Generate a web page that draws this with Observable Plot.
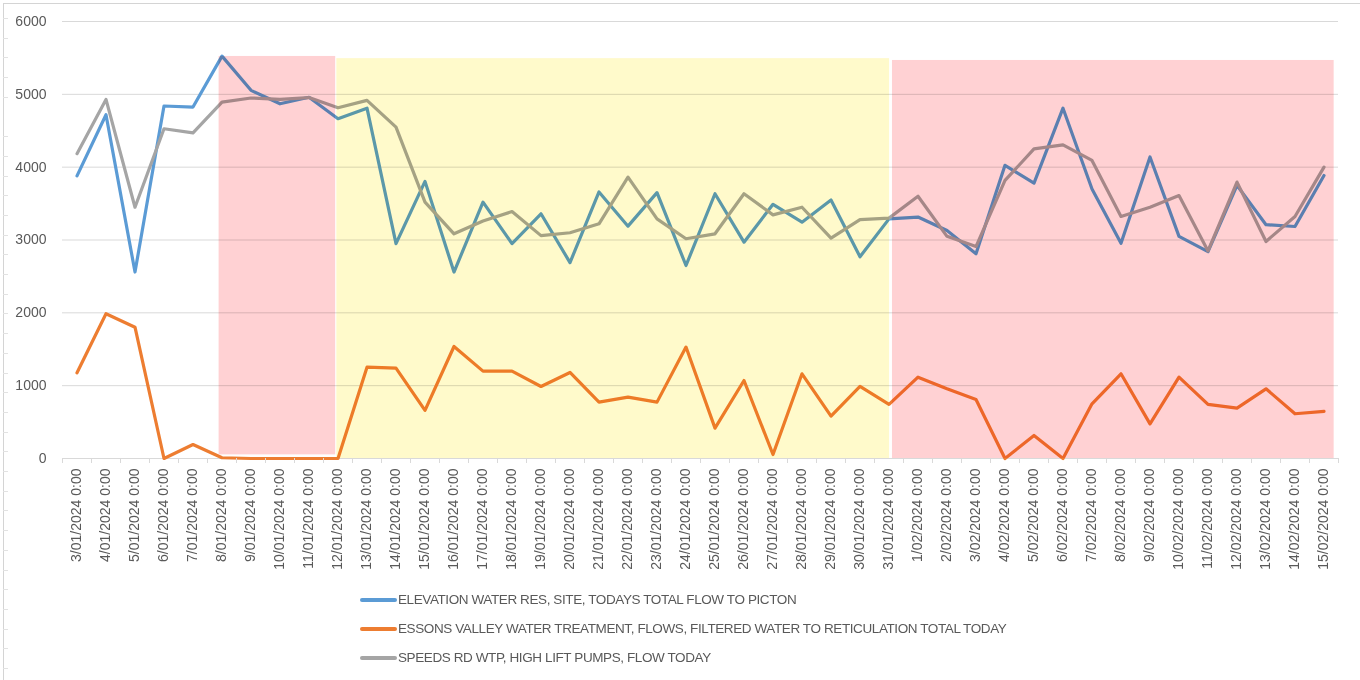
<!DOCTYPE html>
<html>
<head>
<meta charset="utf-8">
<script src="https://cdn.jsdelivr.net/npm/d3@7"></script>
<script src="https://cdn.jsdelivr.net/npm/@observablehq/plot@0.6"></script>
<style>
  html, body { margin: 0; padding: 0; background: #fff; }
  #wrap { position: relative; width: 1360px; height: 680px; overflow: hidden; font-family: "Liberation Sans", Arial, sans-serif; }
  #frameTop { position: absolute; left: 3px; top: 3px; width: 1357px; height: 1px; background: #d4d4d4; }
  #frameLeft { position: absolute; left: 3px; top: 3px; width: 1px; height: 677px; background: #d4d4d4; }
  #rowMarks { position: absolute; left: 3px; top: 0; width: 5px; height: 680px;
    background: repeating-linear-gradient(to bottom, transparent 0px, transparent 18px, #e2e2e2 18px, #e2e2e2 19px, transparent 19px, transparent 19.7px); }
  #chart { position: absolute; left: 0; top: 0; }
  #legend { position: absolute; left: 360px; top: 585px; }
  .row { height: 29px; display: flex; align-items: center; }
  .sw { width: 37px; height: 4px; border-radius: 2px; margin-right: 1px; }
  .lab { font-family: "Liberation Sans", Arial, sans-serif; font-size: 13.5px; letter-spacing: -0.4px; color: #595959; white-space: nowrap; }
</style>
</head>
<body>
<div id="wrap">
  <div id="frameTop"></div>
  <div id="frameLeft"></div>
  <div id="rowMarks"></div>
  <div id="chart"></div>
  <div id="legend"></div>
</div>
<script>
// Category labels (x axis)
const dates = [
  "3/01/2024 0:00","4/01/2024 0:00","5/01/2024 0:00","6/01/2024 0:00","7/01/2024 0:00",
  "8/01/2024 0:00","9/01/2024 0:00","10/01/2024 0:00","11/01/2024 0:00","12/01/2024 0:00",
  "13/01/2024 0:00","14/01/2024 0:00","15/01/2024 0:00","16/01/2024 0:00","17/01/2024 0:00",
  "18/01/2024 0:00","19/01/2024 0:00","20/01/2024 0:00","21/01/2024 0:00","22/01/2024 0:00",
  "23/01/2024 0:00","24/01/2024 0:00","25/01/2024 0:00","26/01/2024 0:00","27/01/2024 0:00",
  "28/01/2024 0:00","29/01/2024 0:00","30/01/2024 0:00","31/01/2024 0:00","1/02/2024 0:00",
  "2/02/2024 0:00","3/02/2024 0:00","4/02/2024 0:00","5/02/2024 0:00","6/02/2024 0:00",
  "7/02/2024 0:00","8/02/2024 0:00","9/02/2024 0:00","10/02/2024 0:00","11/02/2024 0:00",
  "12/02/2024 0:00","13/02/2024 0:00","14/02/2024 0:00","15/02/2024 0:00"
];

// Series values
const elevation = [
  3880, 4720, 2560, 4840, 4825, 5525, 5055, 4870, 4960, 4665,
  4810, 2950, 3805, 2560, 3520, 2950, 3360, 2690, 3660, 3190,
  3650, 2650, 3635, 2970, 3490, 3245, 3550, 2770, 3290, 3315,
  3130, 2810, 4025, 3780, 4810, 3700, 2955, 4140, 3050, 2840,
  3750, 3210, 3185, 3885
];
const essons = [
  1177, 1987, 1803, 0, 192, 10, 0, 0, 0, 0,
  1254, 1240, 660, 1538, 1200, 1200, 989, 1181, 774, 842,
  774, 1530, 417, 1071, 55, 1163, 582, 989, 742, 1117,
  957, 810, 0, 316, 0, 751, 1163, 476, 1117, 742,
  691, 957, 614, 646
];
const speeds = [
  4185, 4930, 3450, 4527, 4470, 4893, 4950, 4930, 4955, 4815,
  4917, 4550, 3520, 3085, 3260, 3390, 3060, 3100, 3222, 3863,
  3290, 3017, 3085, 3635, 3345, 3450, 3025, 3280, 3300, 3600,
  3050, 2910, 3818, 4250, 4307, 4093, 3323, 3450, 3610, 2850,
  3795, 2980, 3323, 4000
];

const seriesNames = [
  "ELEVATION WATER RES, SITE, TODAYS TOTAL FLOW TO PICTON",
  "ESSONS VALLEY WATER TREATMENT, FLOWS, FILTERED WATER TO RETICULATION TOTAL TODAY",
  "SPEEDS RD WTP, HIGH LIFT PUMPS, FLOW TODAY"
];
const seriesColors = ["#5B9BD5", "#ED7D31", "#A5A5A5"];

// Highlight bands (in category-index units, value units)
const bandFrom   = [4.9, 8.96, 28.12];
const bandTo     = [8.92, 28.02, 43.35];
const bandTop    = [5520, 5490, 5465];
const bandBottom = [50, 0, 0];
const bandFill   = ["#FFD1D3", "#FFFACB", "#FFD1D3"];

const yTicks = [0, 1000, 2000, 3000, 4000, 5000, 6000];

const seriesValues = [elevation, essons, speeds];
const rows = seriesValues.flatMap((vals, s) =>
  vals.map((v, i) => ({ i, value: v, series: seriesNames[s] })));
const bands = bandFrom.map((f, k) => ({ x1: f, x2: bandTo[k], y1: bandBottom[k], y2: bandTop[k], fill: bandFill[k] }));

const n = dates.length;
const chart = Plot.plot({
  width: 1360,
  height: 585,
  marginLeft: 62,
  marginRight: 22,
  marginTop: 21,
  marginBottom: 127,
  style: { fontFamily: "'Liberation Sans', Arial, sans-serif", fontSize: "14px", color: "#595959", background: "transparent" },
  x: { type: "linear", domain: [-0.5, n - 0.5] },
  y: { domain: [0, 6000] },
  color: { domain: seriesNames, range: seriesColors },
  marks: [
    Plot.ruleY(yTicks, { stroke: "#D9D9D9", strokeWidth: 1 }),
    Plot.line(rows, { x: "i", y: "value", z: "series", stroke: "series", strokeWidth: 3.2, strokeLinejoin: "round", strokeLinecap: "round" }),
    Plot.rect(bands, { x1: "x1", x2: "x2", y1: "y1", y2: "y2", fill: "fill", mixBlendMode: "multiply" }),
    Plot.axisX({ ticks: d3.range(n + 1).map(k => k - 0.5), tickSize: 5, tickFormat: () => "", stroke: "#D9D9D9" }),
    Plot.axisX({ ticks: d3.range(n), tickSize: 0, tickPadding: 10, tickRotate: -90, tickFormat: k => dates[k], label: null, fill: "#595959", fontSize: 14 }),
    Plot.axisY({ ticks: yTicks, tickSize: 0, tickPadding: 16, tickFormat: d => String(d), label: null, fill: "#595959", fontSize: 14 })
  ]
});
document.getElementById("chart").appendChild(chart);

const legend = document.getElementById("legend");
seriesNames.forEach((name, s) => {
  const row = document.createElement("div");
  row.className = "row";
  const sw = document.createElement("div");
  sw.className = "sw";
  sw.style.background = seriesColors[s];
  const lab = document.createElement("span");
  lab.className = "lab";
  lab.textContent = name;
  row.appendChild(sw);
  row.appendChild(lab);
  legend.appendChild(row);
});
</script>
</body>
</html>
